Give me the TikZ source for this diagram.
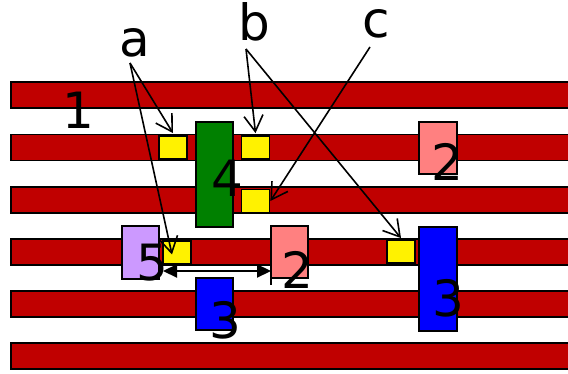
\documentclass[tikz,border=0pt]{standalone}
\usepackage{fontspec}
\setmainfont{DejaVu Sans}
\usetikzlibrary{arrows.meta}
\definecolor{barred}{RGB}{192,0,0}
\definecolor{pinkbox}{RGB}{255,128,128}
\definecolor{lilac}{RGB}{204,153,255}
\definecolor{darkgreen}{RGB}{0,128,0}
\tikzset{
  bar/.style={draw=black, line width=1.8pt, fill=barred, anchor=west,
    minimum width=570pt, minimum height=26pt, inner sep=0pt},
  block/.style={draw=black, line width=1.8pt, inner sep=0pt},
  pad/.style={block, fill=yellow, minimum width=28pt, minimum height=23pt},
  tall/.style={block, minimum width=37pt, minimum height=105pt},
  short/.style={block, minimum width=37pt, minimum height=52pt},
  lbl/.style={inner sep=0pt, font=\fontsize{50}{50}\selectfont},
  pointer/.style={line width=1.6pt, -{Straight Barb[length=16pt,width=19pt,line width=1.6pt]}},
  span/.style={line width=2.2pt, {Triangle[length=14pt,width=13pt]}-{Triangle[length=14pt,width=13pt]}}
}
\begin{document}
\begin{tikzpicture}[x=1pt,y=-1pt]
\useasboundingbox (0,0) rectangle (568,374);
% horizontal tracks
\foreach \i/\y in {1/95,2/147.5,3/200,4/252,5/304,6/356}
  \node[bar] (bar\i) at (10,\y) {};
% connection pads
\node[pad] (Y1) at (173,147.5) {};
\node[pad] (Y2) at (255.5,147.5) {};
\node[pad] (Y3) at (255.5,201) {};
\node[pad] (Y4) at (177,252.5) {};
\node[pad] (Y5) at (401,251.5) {};
% blocks
\node[tall, fill=darkgreen] (G4) at (214.5,174.5) {};
\node[short, fill=pinkbox, minimum width=38pt] (P2a) at (438,148) {};
\node[short, fill=pinkbox] (P2b) at (289.5,252) {};
\node[short, fill=blue] (B3a) at (214.5,304) {};
\node[tall, fill=blue, minimum width=38pt, minimum height=104pt] (B3b) at (438,279) {};
\node[short, fill=lilac, minimum height=53pt] (L5) at (140.5,252.5) {};
% numbers
\node[lbl] (n1) at (78,110) {1};
\node[lbl] (n4) at (227,178) {4};
\node[lbl] (n2a) at (447,162) {2};
\node[lbl] (n2b) at (297,270) {2};
\node[lbl] (n3a) at (225,320) {3};
\node[lbl] (n3b) at (448,298) {3};
\node[lbl] (n5) at (152,263) {5};
% letters
\node[lbl] (la) at (135,43) {a};
\node[lbl] (lb) at (254,22) {b};
\node[lbl] (lc) at (376,24) {c};
\coordinate (aFoot) at (130,63);
\coordinate (bFoot) at (246,49);
\coordinate (cFoot) at (370,47);
% pointers
\draw[pointer] (aFoot) -- ([yshift=2pt]Y1.north);
\draw[pointer] (aFoot) -- ([xshift=-5pt,yshift=-2pt]Y4.center);
\draw[pointer] (bFoot) -- ([yshift=2pt]Y2.north);
\draw[pointer] (bFoot) -- ([yshift=1pt]Y5.north);
\draw[pointer] (cFoot) -- (Y3.east);
% spacing dimension
\coordinate (dL) at (163,271);
\coordinate (dR) at (271,271);
\draw[span] (dL) -- (dR);
\draw[line width=1.5pt] ([yshift=7pt]dR) -- ([yshift=-14pt]dR);
\end{tikzpicture}
\end{document}
